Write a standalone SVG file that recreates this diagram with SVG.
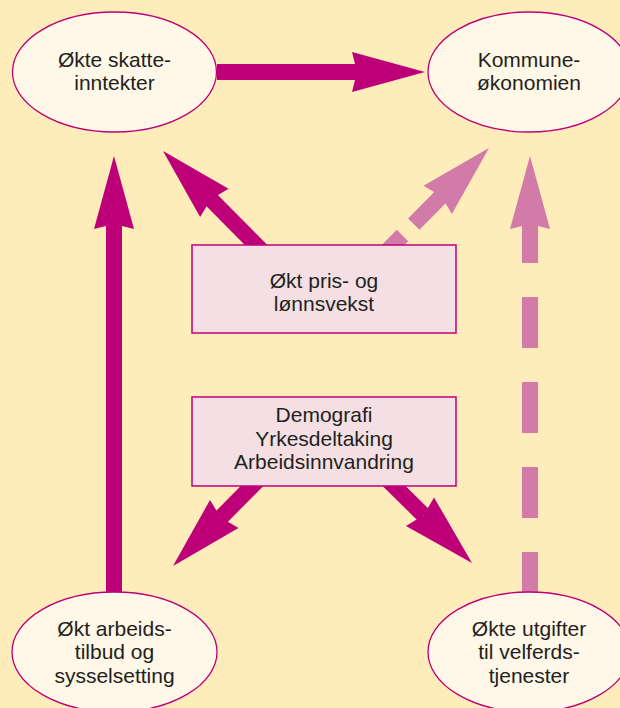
<svg xmlns="http://www.w3.org/2000/svg" xmlns:xlink="http://www.w3.org/1999/xlink" width="620" height="708" viewBox="0 0 620 708">
  <style>
    .bg { fill: #FEEDBB; }
    .ell { fill: #FFF7E7; stroke: #BE0078; stroke-width: 1.3; }
    .box { fill: #F4DFE4; stroke: #BE0078; stroke-width: 1.5; }
    .lbl { font-family: "Liberation Sans", Arial, sans-serif; font-size: 21px; fill: #231F20; text-anchor: middle; }
    .dark { stroke: #BE0078; stroke-width: 16; fill: none; stroke-linecap: butt; }
    .light { stroke: #D27BA8; stroke-width: 16; fill: none; stroke-linecap: butt; }
    .hdark { fill: #BE0078; }
    .hlight { fill: #D27BA8; }
  </style>
  <defs>
    <path id="head" d="M0,0 L-73,-20 L-68,0 L-73,20 Z"/>
  </defs>
  <rect class="bg" x="0" y="0" width="620" height="708"/>

  <g id="connectors">
    <!-- skatteinntekter -> kommuneøkonomien -->
    <line class="dark" x1="217" y1="72" x2="360" y2="72"/>
    <use href="#head" xlink:href="#head" class="hdark" transform="translate(425,72)"/>
    <!-- arbeidstilbud -> skatteinntekter -->
    <line class="dark" x1="114" y1="595" x2="114" y2="220"/>
    <use href="#head" xlink:href="#head" class="hdark" transform="translate(114,156) rotate(-90)"/>
    <!-- pris/lønn -> skatteinntekter -->
    <line class="dark" x1="265" y1="254" x2="208.7" y2="197.2"/>
    <use href="#head" xlink:href="#head" class="hdark" transform="translate(163,151) rotate(-134.7)"/>
    <!-- pris/lønn -> kommuneøkonomien (dashed) -->
    <line class="light" x1="460.9" y1="176.4" x2="413.8" y2="224.1"/>
    <line class="light" x1="402.5" y1="235.5" x2="383.5" y2="254.7"/>
    <use href="#head" xlink:href="#head" class="hlight" transform="translate(489,148) rotate(-45.3)"/>
    <!-- utgifter -> kommuneøkonomien (dashed) -->
    <line class="light" x1="530" y1="212" x2="530" y2="595" stroke-dasharray="51 34"/>
    <use href="#head" xlink:href="#head" class="hlight" transform="translate(530,156) rotate(-90)"/>
    <!-- demografi -> arbeidstilbud -->
    <line class="dark" x1="258" y1="480" x2="220.8" y2="517.6"/>
    <use href="#head" xlink:href="#head" class="hdark" transform="translate(173,566) rotate(134.6)"/>
    <!-- demografi -> utgifter -->
    <line class="dark" x1="388" y1="480" x2="423.7" y2="515.3"/>
    <use href="#head" xlink:href="#head" class="hdark" transform="translate(472,563) rotate(44.6)"/>
  </g>

  <g id="node-skatteinntekter">
    <ellipse class="ell" cx="114.5" cy="72" rx="102" ry="60"/>
    <text class="lbl" x="114.5" y="67">Økte skatte-</text>
    <text class="lbl" x="114.5" y="90">inntekter</text>
  </g>
  <g id="node-kommuneokonomien">
    <ellipse class="ell" cx="529" cy="72" rx="101" ry="60"/>
    <text class="lbl" x="529" y="67">Kommune-</text>
    <text class="lbl" x="529" y="90">økonomien</text>
  </g>
  <g id="node-prislonn">
    <rect class="box" x="192" y="245" width="264" height="88"/>
    <text class="lbl" x="324" y="288">Økt pris- og</text>
    <text class="lbl" x="324" y="311">lønnsvekst</text>
  </g>
  <g id="node-demografi">
    <rect class="box" x="192" y="397" width="264" height="89"/>
    <text class="lbl" x="324" y="422">Demografi</text>
    <text class="lbl" x="324" y="445.5">Yrkesdeltaking</text>
    <text class="lbl" x="324" y="469">Arbeidsinnvandring</text>
  </g>
  <g id="node-arbeidstilbud">
    <ellipse class="ell" cx="114.5" cy="652" rx="102.5" ry="60"/>
    <text class="lbl" x="114.5" y="636">Økt arbeids-</text>
    <text class="lbl" x="114.5" y="659">tilbud og</text>
    <text class="lbl" x="114.5" y="683">sysselsetting</text>
  </g>
  <g id="node-utgifter">
    <ellipse class="ell" cx="529" cy="652" rx="101" ry="60"/>
    <text class="lbl" x="529" y="636">Økte utgifter</text>
    <text class="lbl" x="529" y="659">til velferds-</text>
    <text class="lbl" x="529" y="683">tjenester</text>
  </g>
</svg>
